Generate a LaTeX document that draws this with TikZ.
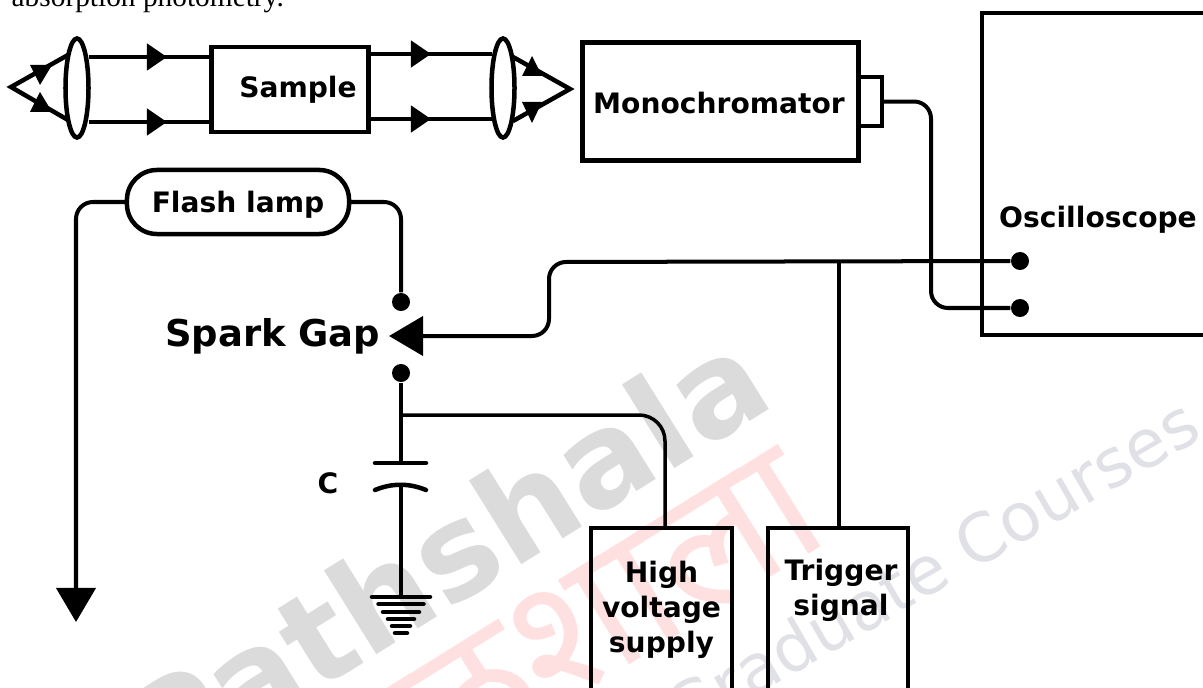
\documentclass[tikz,border=0pt]{standalone}
\usepackage{fontspec}
\usepackage{tikz}
\setmainfont{DejaVu Sans}
\newfontfamily\bodyfont{Liberation Serif}
\newfontfamily\hindifont[Script=Devanagari]{Noto Sans}
\usetikzlibrary{arrows.meta,positioning,shapes.geometric}

\begin{document}
\begin{tikzpicture}[
    x=0.01cm, y=-0.01cm,
    wire/.style={draw, line width=0.4mm, rounded corners=1.7mm},
    beam/.style={draw, line width=0.45mm},
    beamtip/.style={draw, line width=0.45mm, -{Triangle[length=2mm,width=2.6mm]}},
    plate/.style={draw, line width=0.45mm, line cap=round},
    device/.style={
        draw,
        line width=0.45mm,
        outer sep=0pt,
        align=center,
        font=\fontsize{8}{10}\selectfont\bfseries
    },
    caption/.style={
        align=center,
        inner sep=0pt,
        font=\fontsize{8}{10}\selectfont\bfseries
    },
    lens/.style={
        draw,
        ellipse,
        fill=white,
        line width=0.45mm,
        outer sep=0pt,
        inner sep=0pt,
        minimum width=2.3mm,
        minimum height=9.9mm
    },
    contact/.style={
        circle,
        fill=black,
        inner sep=0pt,
        minimum size=1.8mm
    },
    stamp/.style={
        rotate=30,
        inner sep=0pt,
        font=\fontsize{37}{37}\selectfont\bfseries
    }
]
\useasboundingbox (0,0) rectangle (1203,688);

\node[stamp, rotate=2, text=black!14, anchor=base east] (stampname) at (778,404) {Pathshala};
\node[stamp, rotate=2, text=red!12, font=\fontsize{50}{50}\selectfont\hindifont] (stamphindi) at (560,645) {पाठशाला};
\node[stamp, text=blue!20!black!12, font=\fontsize{19}{19}\selectfont, anchor=base east] (stampcourses) at (1205,437) {Graduate Courses};

\node[anchor=base west, inner sep=0pt, font=\fontsize{8.35}{10}\selectfont\bodyfont] (intro) at (11,7) {absorption photometry.};

\node[device, minimum width=15.5mm, minimum height=8.5mm] (sample) at (290,89.5) {\hspace{1.6mm}Sample};
\node[device, minimum width=27.6mm, minimum height=11.8mm, right=21.4mm of sample, yshift=-1.2mm] (mono) {};
\node[caption, anchor=base] (monotext) at (719,114) {Monochromator};
\node[device, minimum width=2.3mm, minimum height=4.9mm, right=0pt of mono] (port) {};
\node[device, minimum width=30cm, minimum height=32.2mm, anchor=north west] (scope) at (982,13) {};
\node[caption, anchor=base] (scopetext) at (1098,228) {Oscilloscope};

\node[device, rounded corners=3mm, minimum width=22.2mm, minimum height=6.4mm, text depth=0pt] (lamp) at (238,202) {Flash lamp};
\node[contact] (gaptop) at (401,302) {};
\node[contact] (gapbottom) at (401,373) {};
\node[contact] (scopeone) at (1020,261) {};
\node[contact] (scopetwo) at (1020,308) {};
\node[anchor=base east, inner sep=0pt, font=\fontsize{10.5}{12}\selectfont\bfseries] (gaptext) at (381,346) {Spark Gap};
\node[caption, anchor=base east] (ctext) at (339,493) {C};

\node[device, minimum width=14.1mm, minimum height=30cm, anchor=north] (supply) at (661.5,528) {};
\node[device, minimum width=14mm, minimum height=30cm, anchor=north] (trigger) at (838,528) {};
\node[caption, below=0pt of supply.north, yshift=-3.2mm] (supplytext) {High\\voltage\\supply};
\node[caption, below=0pt of trigger.north, yshift=-3mm, xshift=0.3mm] (triggertext) {Trigger\\signal};

\coordinate (dropend) at (76,622);
\coordinate (gaptip) at (389,336);
\coordinate (bendtop) at (549,262);
\coordinate (bendlow) at (549,336);
\coordinate (fork) at (839,262);
\coordinate (join) at (401,415);
\coordinate (supplytop) at (665,528);
\coordinate (platetop) at (401,463);
\coordinate (platelow) at (401,485);
\coordinate (earth) at (401,597);
\coordinate (scopedrop) at (931,308);

\node[lens] (lensa) at (77,88) {};
\node[lens] (lensb) at (503,88) {};

\draw[beam] (lensa.east |- 0,57) -- (sample.west |- 0,57);
\draw[beamtip] (lensa.east |- 0,57) -- (167,57);
\draw[beam] (lensa.east |- 0,122) -- (sample.west |- 0,122);
\draw[beamtip] (lensa.east |- 0,122) -- (167,122);
\draw[beam] (sample.east |- 0,54) -- (lensb.west |- 0,54);
\draw[beamtip] (sample.east |- 0,54) -- (431,54);
\draw[beam] (sample.east |- 0,119) -- (lensb.west |- 0,119);
\draw[beamtip] (sample.east |- 0,119) -- (431,119);

\draw[beam] (68,55) -- (11,87) -- (68,120);
\draw[beam] (513,57) -- (570,89) -- (513,121);
\fill (30,65) -- (52,65) -- (40,85) -- cycle;
\fill (30,112) -- (52,112) -- (40,92) -- cycle;
\fill (522,76) -- (542,76) -- (532,56) -- cycle;
\fill (522,102) -- (542,102) -- (532,123) -- cycle;

\draw[wire] (port.east) -| (scopedrop) -- (scopetwo);
\draw[wire, -{Triangle[length=3.4mm,width=3.9mm]}] (lamp.west) -| (dropend);
\draw[wire] (lamp.east) -| (gaptop);
\draw[wire, -{Triangle[length=3.4mm,width=3.9mm]}] (scopeone) -- (bendtop) -- (bendlow) -- (gaptip);
\draw[wire, line width=0.35mm] (fork) -- (trigger.north -| fork);
\draw[wire] (gapbottom) -- (platetop);
\draw[wire, line width=0.35mm, rounded corners=2.6mm] (join) -| (supplytop);
\draw[wire] (platelow) -- (earth);

\draw[plate] (375,463) -- (426,463);
\draw[plate] (375,490) .. controls (392,483) and (409,483) .. (426,490);
\foreach \gy/\gw in {597/29,604/22.5,612/18,619/13,626/9,633/6}
    \draw[plate] (401-\gw,\gy) -- (401+\gw,\gy);
\end{tikzpicture}
\end{document}
